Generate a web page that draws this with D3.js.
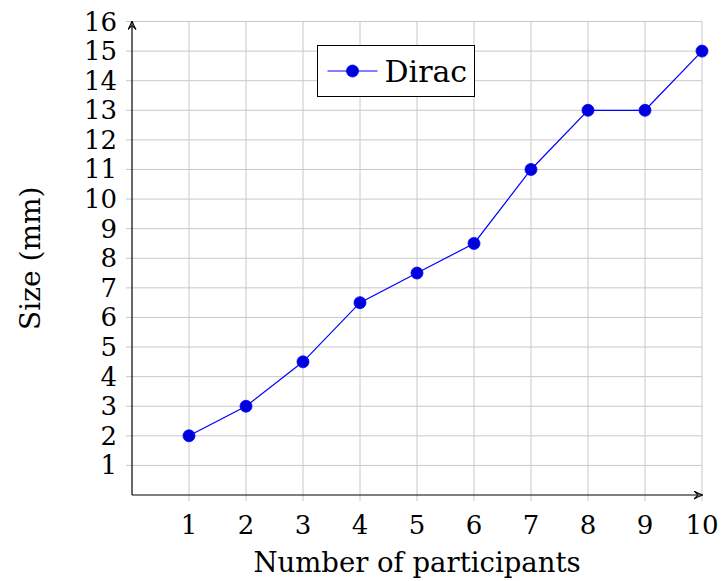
<!DOCTYPE html>
<html>
<head>
<meta charset="utf-8">
<script src="https://cdn.jsdelivr.net/npm/d3@7"></script>
<style>
  body { margin: 0; background: #fff; }
</style>
</head>
<body>
<script>
const participants = [1, 2, 3, 4, 5, 6, 7, 8, 9, 10];
const sizes = [2, 3, 4.5, 6.5, 7.5, 8.5, 11, 13, 13, 15];
const yTicks = d3.range(1, 17);
const seriesName = "Dirac";

const w = 721;
const h = 581;
const serif = "'DejaVu Serif', 'Liberation Serif', 'Times New Roman', Times, serif";

const svg = d3.select("body")
  .append("svg")
  .attr("width", w)
  .attr("height", h)
  .attr("font-family", serif)
  .style("font-family", serif);

const x = d3.scaleLinear().domain([0, 10]).range([132, 702]);
const y = d3.scaleLinear().domain([0, 16]).range([495, 21.5]);

// grid
svg.append("g")
  .selectAll("line")
  .data(participants)
  .enter()
  .append("line")
  .attr("x1", d => x(d)).attr("x2", d => x(d))
  .attr("y1", y(16)).attr("y2", y(0) + 6)
  .attr("stroke", "#c8c8c8")
  .attr("stroke-width", 1);

svg.append("g")
  .selectAll("line")
  .data(yTicks)
  .enter()
  .append("line")
  .attr("x1", x(0) - 6).attr("x2", x(10))
  .attr("y1", d => y(d)).attr("y2", d => y(d))
  .attr("stroke", "#c8c8c8")
  .attr("stroke-width", 1);

// axes with arrows
svg.append("defs").append("marker")
  .attr("id", "arrow")
  .attr("viewBox", "0 0 10 10")
  .attr("refX", 9).attr("refY", 5)
  .attr("markerWidth", 9).attr("markerHeight", 9)
  .attr("markerUnits", "userSpaceOnUse")
  .attr("orient", "auto")
  .append("path")
  .attr("d", "M0,0.5 Q6,4 10,5 Q6,6 0,9.5 L0.5,9 Q4,6 4,5 Q4,4 0.5,1 Z")
  .attr("fill", "none")
  .attr("stroke", "#000")
  .attr("stroke-width", 1.2);

svg.append("line")
  .attr("x1", x(0)).attr("x2", x(10))
  .attr("y1", y(0)).attr("y2", y(0))
  .attr("stroke", "#000").attr("stroke-width", 1.2)
  .attr("marker-end", "url(#arrow)");

svg.append("line")
  .attr("x1", x(0)).attr("x2", x(0))
  .attr("y1", y(0)).attr("y2", y(16))
  .attr("stroke", "#000").attr("stroke-width", 1.2)
  .attr("marker-end", "url(#arrow)");

// tick labels
svg.append("g")
  .selectAll("text")
  .data(participants)
  .enter()
  .append("text")
  .attr("x", d => x(d))
  .attr("y", 534)
  .attr("text-anchor", "middle")
  .style("font-size", "26px")
  .text(d => d);

svg.append("g")
  .selectAll("text")
  .data(yTicks)
  .enter()
  .append("text")
  .attr("x", 117)
  .attr("y", d => y(d) + 9)
  .attr("text-anchor", "end")
  .style("font-size", "26px")
  .text(d => d);

// axis labels
svg.append("text")
  .attr("x", 417)
  .attr("y", 572)
  .attr("text-anchor", "middle")
  .style("font-size", "27.5px")
  .text("Number of participants");

svg.append("text")
  .attr("transform", `translate(40, ${y(8)}) rotate(-90)`)
  .attr("text-anchor", "middle")
  .style("font-size", "28px")
  .text("Size (mm)");

// series
const line = d3.line()
  .x((d, i) => x(participants[i]))
  .y(d => y(d));

svg.append("path")
  .datum(sizes)
  .attr("d", line)
  .attr("fill", "none")
  .attr("stroke", "#0000ff")
  .attr("stroke-width", 1.2);

svg.append("g")
  .selectAll("circle")
  .data(sizes)
  .enter()
  .append("circle")
  .attr("cx", (d, i) => x(participants[i]))
  .attr("cy", d => y(d))
  .attr("r", 6)
  .attr("fill", "#0000dd")
  .attr("stroke", "#0000ff")
  .attr("stroke-width", 0.8);

// legend
const legend = svg.append("g").attr("transform", "translate(317.5,45.5)");
legend.append("rect")
  .attr("width", 157).attr("height", 51)
  .attr("fill", "#fff").attr("stroke", "#000").attr("stroke-width", 1);
legend.append("line")
  .attr("x1", 10).attr("x2", 60).attr("y1", 25.5).attr("y2", 25.5)
  .attr("stroke", "#0000ff").attr("stroke-width", 1.2);
legend.append("circle")
  .attr("cx", 35).attr("cy", 25.5).attr("r", 6)
  .attr("fill", "#0000dd").attr("stroke", "#0000ff").attr("stroke-width", 0.8);
legend.append("text")
  .attr("x", 67).attr("y", 36)
  .style("font-size", "30px")
  .text(seriesName);
</script>
</body>
</html>
